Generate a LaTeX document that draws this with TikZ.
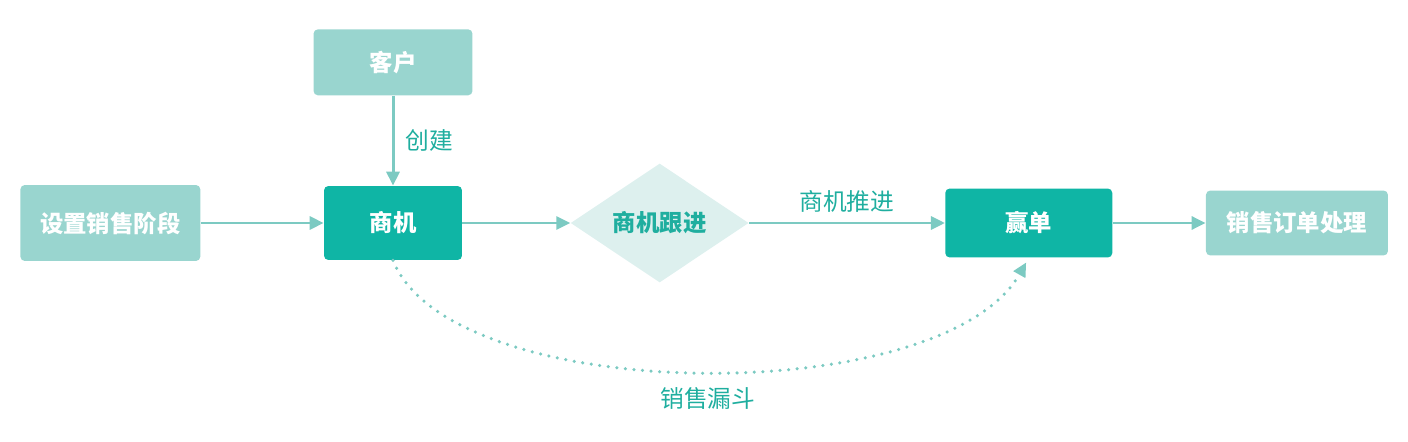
\documentclass[tikz,border=0pt]{standalone}
\usepackage{fontspec}
\newfontfamily\cjk{Noto Sans CJK SC}
\usetikzlibrary{shapes.geometric, positioning, arrows.meta}

\definecolor{tealclaro}{HTML}{99D5CF}
\definecolor{tealfuerte}{HTML}{0FB5A5}
\definecolor{tealdiamante}{HTML}{DDF0EE}
\definecolor{tealflecha}{HTML}{7CCAC2}
\definecolor{tealtexto}{HTML}{1FAE9F}

\begin{document}
\begin{tikzpicture}[
        x=0.02cm, y=-0.02cm,
        font=\cjk\fontsize{13.5}{15}\selectfont,
        % Estilo para las etapas claras
        paso/.style={
            rectangle,
            fill=tealclaro,
            rounded corners=2.5pt,
            text=white,
            font=\cjk\bfseries\fontsize{13.3}{15}\selectfont
        },
        % Estilo para las etapas principales
        fuerte/.style={
            paso,
            fill=tealfuerte
        },
        % Estilo para la decision
        decision/.style={
            diamond,
            fill=tealdiamante,
            inner sep=0pt,
            minimum width=3.56cm,
            minimum height=2.38cm,
            text=tealtexto,
            font=\cjk\bfseries\fontsize{13.3}{15}\selectfont
        },
        % Estilo para etiquetas y flechas
        etiqueta/.style={text=tealtexto, font=\cjk\fontsize{13.5}{15}\selectfont},
        flecha/.style={-{Triangle[length=0.28cm, width=0.26cm]}, line width=1.7pt, color=tealflecha},
        embudo/.style={flecha, line width=2pt, line cap=round, dash pattern=on 0pt off 4.9pt}
    ]

        \useasboundingbox (0,0) rectangle (1408,442);

        % 1. Nodo central: Oportunidad
        \node[fuerte, minimum width=2.76cm, minimum height=1.48cm] (oportunidad) at (393,223) {商机};

        % 2. Entradas
        \node[paso, minimum width=3.6cm, minimum height=1.52cm, left=2.46cm of oportunidad] (etapas) {设置销售阶段};
        \node[paso, minimum width=3.18cm, minimum height=1.32cm, above=1.8cm of oportunidad] (cliente) {客户};

        % 3. Seguimiento y cierre
        \node[decision, right=2.16cm of oportunidad] (seguimiento) {商机跟进};
        \node[fuerte, minimum width=3.34cm, minimum height=1.38cm, right=3.92cm of seguimiento] (ganado) {赢单};
        \node[paso, minimum width=3.64cm, minimum height=1.3cm, right=1.86cm of ganado] (pedido) {销售订单处理};

        % Flechas y Conexiones
        \draw[flecha] (etapas) -- (oportunidad);
        \draw[flecha] (cliente) -- node[right=3pt, etiqueta] {创建} (oportunidad);
        \draw[flecha] (oportunidad) -- (seguimiento);
        \draw[flecha] (seguimiento) -- node[above=2pt, etiqueta] {商机推进} (ganado);
        \draw[flecha] (ganado) -- (pedido);

        % Embudo de ventas (punteado)
        \draw[embudo, shorten >=3pt] (oportunidad.south) .. controls +(59,147) and +(-86,152) .. (ganado.south)
            node[pos=0.5, below=0.18cm, xshift=0.14cm, etiqueta] (embudolbl) {销售漏斗};

    \end{tikzpicture}
\end{document}
